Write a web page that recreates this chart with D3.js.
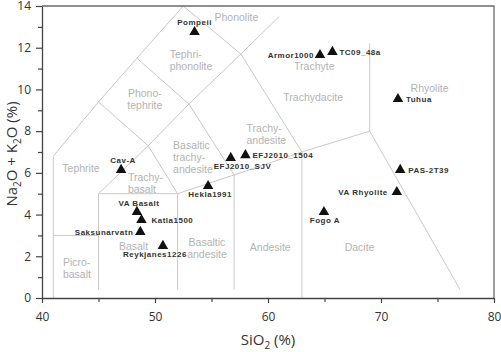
<!DOCTYPE html>
<html lang="en">
  <head>
    <meta charset="UTF-8" />
    <title>TAS diagram</title>
    <script src="https://d3js.org/d3.v7.min.js"></script>
    <style>
      body { margin: 0; background: #fff; }
    </style>
  </head>
  <body>
    <svg width="501" height="352"></svg>

    <script>
      // sample names and values (SiO2, Na2O+K2O in wt%)
      const names = ["Pompeii", "Armor1000", "TC09_48a", "Tuhua", "PAS-2T39", "VA Rhyolite", "Fogo A",
        "Hekla1991", "EFJ2010_1504", "EFJ2010_SJV", "Cav-A", "VA Basalt", "Katla1500", "Saksunarvatn", "Reykjanes1226"];
      const sio2 = [53.5, 64.6, 65.7, 71.5, 71.7, 71.4, 64.95, 54.7, 58.0, 56.7, 47.0, 48.4, 48.8, 48.7, 50.7];
      const alkali = [12.75, 11.65, 11.8, 9.54, 6.14, 5.08, 4.12, 5.37, 6.85, 6.72, 6.14, 4.13, 3.74, 3.17, 2.5];

      // field boundaries of the TAS diagram
      const boundaries = [
        [[41, 0], [41, 6.8]],
        [[41, 6.8], [45, 9.4], [48.4, 11.5], [52.5, 14]],
        [[41, 3], [45, 3]],
        [[45, 0.4], [45, 5], [52, 5], [57, 5.9], [63, 7], [69, 8], [77, 0.4]],
        [[45, 5], [49.4, 7.3], [52, 5], [52, 0.4]],
        [[45, 9.4], [49.4, 7.3]],
        [[49.4, 7.3], [53, 9.3], [57.6, 11.7], [61, 13.5]],
        [[48.4, 11.5], [53, 9.3], [57, 5.9], [57, 0.4]],
        [[52.5, 14], [57.6, 11.7], [63, 7], [63, 0]],
        [[69, 8], [69, 12.2]]
      ];

      // field names: text lines, SiO2, Na2O+K2O of the first line
      const fields = [
        { lines: ["Phonolite"], x: 57.2, y: 13.3, anchor: "middle" },
        { lines: ["Tephri-", "phonolite"], x: 51.3, y: 11.5, anchor: "start" },
        { lines: ["Phono-", "tephrite"], x: 49.1, y: 9.65, anchor: "middle" },
        { lines: ["Tephrite"], x: 43.45, y: 6.05, anchor: "middle" },
        { lines: ["Trachy-", "basalt"], x: 47.6, y: 5.6, anchor: "start" },
        { lines: ["Basaltic", "trachy-", "andesite"], x: 51.6, y: 7.15, anchor: "start" },
        { lines: ["Trachy-", "andesite"], x: 58.1, y: 7.95, anchor: "start" },
        { lines: ["Trachyte"], x: 64.1, y: 10.95, anchor: "middle" },
        { lines: ["Trachydacite"], x: 64.0, y: 9.45, anchor: "middle" },
        { lines: ["Rhyolite"], x: 74.3, y: 9.9, anchor: "middle" },
        { lines: ["Basalt"], x: 48.1, y: 2.32, anchor: "middle" },
        { lines: ["Picro-", "basalt"], x: 41.85, y: 1.55, anchor: "start" },
        { lines: ["Basaltic", "andesite"], x: 54.6, y: 2.5, anchor: "middle" },
        { lines: ["Andesite"], x: 60.2, y: 2.25, anchor: "middle" },
        { lines: ["Dacite"], x: 68.1, y: 2.25, anchor: "middle" }
      ];

      // label placement for each sample: anchor, dx, dy (px)
      const labelPos = [
        ["middle", 0, -7], ["end", -6, 3], ["start", 7, 3], ["start", 8, 3], ["start", 8, 3],
        ["end", -9, 3], ["middle", 1, 11], ["middle", 2, 11], ["start", 7, 3], ["start", -17, 11],
        ["middle", 2, -7], ["middle", 2, -6], ["start", 10, 3], ["end", -7, 3], ["middle", -8, 11]
      ];

      const svg = d3.select("svg");
      const x = d3.scaleLinear().domain([40, 80]).range([42, 494]);
      const y = d3.scaleLinear().domain([0, 14]).range([298, 6]);

      // boundary lines
      const line = d3.line().x(d => x(d[0])).y(d => y(d[1]));
      svg.append("g")
        .selectAll("path")
        .data(boundaries)
        .join("path")
        .attr("d", line)
        .attr("fill", "none")
        .attr("stroke", "#c9c9c9")
        .attr("stroke-width", 1);

      // field names
      const fieldText = svg.append("g")
        .attr("font-family", "'Liberation Sans', Arial, sans-serif")
        .attr("font-size", 10.5)
        .attr("fill", "#b3b3b3")
        .selectAll("text")
        .data(fields)
        .join("text")
        .attr("text-anchor", d => d.anchor)
        .attr("x", d => x(d.x))
        .attr("y", d => y(d.y));
      fieldText.selectAll("tspan")
        .data(d => d.lines.map((t, i) => ({ t, i, px: x(d.x) })))
        .join("tspan")
        .attr("x", d => d.px)
        .attr("dy", d => (d.i === 0 ? 0 : 12))
        .text(d => d.t);

      // frame (top and right)
      svg.append("path")
        .attr("d", `M${x(40)},${y(14)}H${x(80)}V${y(0)}`)
        .attr("fill", "none")
        .attr("stroke", "#6a6a6a")
        .attr("stroke-width", 1.3);

      // axes
      function styleAxis(g) {
        g.select(".domain").attr("stroke", "#444").attr("stroke-width", 1.3);
        g.selectAll(".tick line").attr("stroke", "#444").attr("stroke-width", 1.2);
        g.selectAll(".tick text")
          .attr("fill", "#333")
          .attr("font-size", 12)
          .attr("font-family", "'Open Sans', 'Noto Sans', sans-serif");
      }

      svg.append("g")
        .attr("transform", `translate(0,${y(0)})`)
        .call(d3.axisBottom(x).tickValues([45, 55, 65, 75]).tickSize(4).tickFormat(""))
        .call(g => g.select(".domain").remove())
        .call(styleAxis);
      svg.append("g")
        .attr("transform", `translate(0,${y(0)})`)
        .call(d3.axisBottom(x).tickValues([40, 50, 60, 70, 80]).tickSize(5).tickPadding(9).tickSizeOuter(0))
        .call(styleAxis);

      svg.append("g")
        .attr("transform", `translate(${x(40)},0)`)
        .call(d3.axisLeft(y).tickValues([1, 3, 5, 7, 9, 11, 13]).tickSize(4).tickFormat(""))
        .call(g => g.select(".domain").remove())
        .call(styleAxis);
      svg.append("g")
        .attr("transform", `translate(${x(40)},0)`)
        .call(d3.axisLeft(y).tickValues(d3.range(0, 15, 2)).tickSize(6).tickPadding(5).tickSizeOuter(0))
        .call(styleAxis);

      // axis titles
      const xTitle = svg.append("text")
        .attr("x", 268)
        .attr("y", 345)
        .attr("text-anchor", "middle")
        .attr("font-family", "'Open Sans', 'Noto Sans', sans-serif")
        .attr("font-size", 15)
        .attr("fill", "#333");
      xTitle.append("tspan").text("SiO");
      xTitle.append("tspan").attr("font-size", 10).attr("dy", 4).text("2");
      xTitle.append("tspan").attr("dy", -4).text(" (%)");

      const yTitle = svg.append("text")
        .attr("transform", "translate(17,154) rotate(-90)")
        .attr("text-anchor", "middle")
        .attr("font-family", "'Open Sans', 'Noto Sans', sans-serif")
        .attr("font-size", 15)
        .attr("fill", "#333");
      yTitle.append("tspan").text("Na");
      yTitle.append("tspan").attr("font-size", 10).attr("dy", 4).text("2");
      yTitle.append("tspan").attr("dy", -4).text("O + K");
      yTitle.append("tspan").attr("font-size", 10).attr("dy", 4).text("2");
      yTitle.append("tspan").attr("dy", -4).text("O (%)");

      // samples
      const pts = d3.range(names.length);
      svg.append("g")
        .selectAll("path")
        .data(pts)
        .join("path")
        .attr("transform", i => `translate(${x(sio2[i])},${y(alkali[i])})`)
        .attr("d", d3.symbol(d3.symbolTriangle, 48))
        .attr("fill", "#111");

      svg.append("g")
        .attr("font-family", "'Liberation Sans', Arial, sans-serif")
        .attr("font-size", 8)
        .attr("font-weight", "bold")
        .attr("letter-spacing", 0.5)
        .attr("fill", "#333")
        .selectAll("text")
        .data(pts)
        .join("text")
        .attr("x", i => x(sio2[i]) + labelPos[i][1])
        .attr("y", i => y(alkali[i]) + labelPos[i][2])
        .attr("text-anchor", i => labelPos[i][0])
        .text(i => names[i]);
    </script>
  </body>
</html>
